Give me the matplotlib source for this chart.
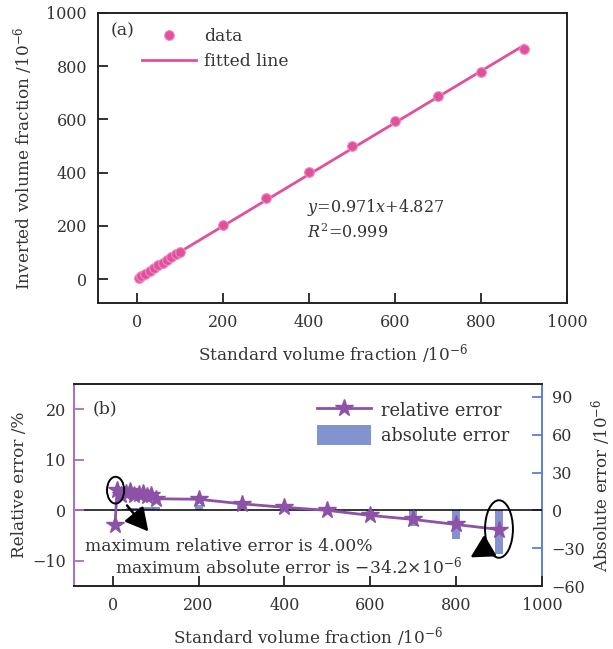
import numpy as np
import matplotlib
matplotlib.use('Agg')
import matplotlib.pyplot as plt
from matplotlib.patches import Ellipse

plt.rcParams['font.family'] = ['DejaVu Serif']
plt.rcParams['mathtext.fontset'] = 'dejavuserif'
plt.rcParams['text.color'] = '#333333'
plt.rcParams['axes.labelcolor'] = '#333333'

# Data
standard = [5, 10, 20, 30, 40, 50, 60, 70, 80, 90, 100,
            200, 300, 400, 500, 600, 700, 800, 900]
inverted = [4.85, 10.4, 20.6, 31.05, 41.5, 51.5, 61.9, 72.4, 82.2, 92.7, 102.3,
            204.4, 303.9, 402.4, 500.0, 594.0, 687.4, 777.6, 865.8]
relative_error = [-3.0, 4.0, 3.0, 3.5, 3.8, 3.0, 3.2, 3.4, 2.8, 3.0, 2.3,
                  2.2, 1.3, 0.6, 0.0, -1.0, -1.8, -2.8, -3.8]
absolute_error = [-0.15, 0.4, 0.6, 1.05, 1.5, 1.5, 1.9, 2.4, 2.2, 2.7, 2.3,
                  4.4, 3.9, 2.4, 0.0, -6.0, -12.6, -22.4, -34.2]
fit_slope, fit_intercept = 0.971, 4.827

pink = '#e0509c'
purple = '#8d52a8'
purple_spine = '#a66fc8'
blue = '#6478c4'
blue_spine = '#5b7fd6'
dark = '#222222'

fig = plt.figure(figsize=(6.13, 6.49), dpi=100)

# ---- panel (a) ----
ax1 = fig.add_axes([0.160, 0.533, 0.765, 0.447])
fit_x = np.array([0, 900])
ax1.plot(fit_x, fit_slope * fit_x + fit_intercept, color=pink, lw=2.0,
         label='fitted line', zorder=2)
ax1.plot(standard, inverted, 'o', color=pink, ms=7, mec='#f08cc0', mew=0.8,
         label='data', zorder=3)
ax1.set_xlim(-90, 1000)
ax1.set_ylim(-90, 1000)
ax1.set_xticks([0, 200, 400, 600, 800, 1000])
ax1.set_yticks([0, 200, 400, 600, 800, 1000])
ax1.set_xlabel(r'Standard volume fraction /10$^{-6}$', fontsize=12.2, labelpad=8)
ax1.set_ylabel(r'Inverted volume fraction /10$^{-6}$', fontsize=12.2, labelpad=8)
ax1.tick_params(direction='in', length=7, width=1.3, labelsize=11.5,
                colors=dark, labelcolor='#333333', pad=8)
for s in ax1.spines.values():
    s.set_linewidth(1.4)
    s.set_color(dark)
ax1.text(0.026, 0.94, '(a)', transform=ax1.transAxes, fontsize=12.5, va='center')
h, l = ax1.get_legend_handles_labels()
ax1.legend([h[1], h[0]], [l[1], l[0]], loc='upper left', bbox_to_anchor=(0.06, 1.0),
           frameon=False, fontsize=12.3, handlelength=3.2, numpoints=1,
           handletextpad=0.45, labelspacing=0.45)
ax1.text(396, 269, r'$y$=0.971$x$+4.827', fontsize=11.5, va='center')
ax1.text(396, 174, r'$R^2$=0.999', fontsize=11.5, va='center')

# ---- panel (b) ----
ax2 = fig.add_axes([0.121, 0.097, 0.763, 0.311])
ax3 = ax2.twinx()
ax2.set_zorder(ax3.get_zorder() + 1)
ax2.patch.set_visible(False)

bars = ax3.bar(standard, absolute_error, width=19, color=blue, alpha=0.8,
               label='absolute error')
ax3.set_ylim(-60, 100)
ax3.set_yticks([-60, -30, 0, 30, 60, 90])
ax3.set_ylabel(r'Absolute error /10$^{-6}$', fontsize=12, labelpad=3)
ax3.tick_params(axis='y', direction='in', length=7, width=1.3, labelsize=11.5,
                colors=blue_spine, labelcolor='#333333', pad=7)
for k in ['top', 'bottom', 'left']:
    ax3.spines[k].set_visible(False)
ax3.spines['right'].set_color(blue_spine)
ax3.spines['right'].set_linewidth(1.4)

ax2.axhline(0, color='black', lw=1.1, zorder=1)
line, = ax2.plot(standard, relative_error, '-*', color=purple, lw=2.0, ms=13,
                 label='relative error', zorder=3)
ax2.set_xlim(-90, 1000)
ax2.set_ylim(-15, 25)
ax2.set_xticks([0, 200, 400, 600, 800, 1000])
ax2.set_yticks([-10, 0, 10, 20])
ax2.set_xlabel(r'Standard volume fraction /10$^{-6}$', fontsize=12.2, labelpad=8)
ax2.set_ylabel('Relative error /%', fontsize=12.2, labelpad=3)
ax2.tick_params(axis='x', direction='in', length=7, width=1.3, labelsize=11.5,
                colors=dark, labelcolor='#333333', pad=8)
ax2.tick_params(axis='y', direction='in', length=7, width=1.3, labelsize=11.5,
                colors=purple_spine, labelcolor='#333333', pad=6)
ax2.spines['right'].set_visible(False)
ax2.spines['left'].set_color(purple_spine)
for k in ['top', 'bottom']:
    ax2.spines[k].set_color(dark)
for s in ax2.spines.values():
    s.set_linewidth(1.4)

ax2.text(0.04, 0.876, '(b)', transform=ax2.transAxes, fontsize=12.5, va='center')

# ellipses and arrows
ax2.add_patch(Ellipse((6.5, 4.0), 40, 5.3, fill=False, ec='black', lw=1.4, zorder=4))
ax2.add_patch(Ellipse((900, -3.7), 65, 11.4, fill=False, ec='black', lw=1.4, zorder=4))
arrow_style = dict(arrowstyle='-|>,head_length=1.4,head_width=0.75', color='black', lw=1.8)
ax2.annotate('', xy=(87, -4.6), xytext=(29, 1.4), arrowprops=arrow_style, zorder=5)
ax2.annotate('', xy=(828, -9.6), xytext=(882, -6.9), arrowprops=arrow_style, zorder=5)
ax2.text(-65, -7.1, 'maximum relative error is 4.00%', fontsize=12.3, va='center')
ax2.text(5, -11.2, r'maximum absolute error is $-$34.2$\times$10$^{-6}$',
         fontsize=12.3, va='center')

ax2.legend([line, bars], ['relative error', 'absolute error'], loc='upper right',
           bbox_to_anchor=(0.965, 1.0), frameon=False, fontsize=12.8,
           handlelength=3.0, handleheight=1.3, handletextpad=0.6, labelspacing=0.3)

fig.savefig('out.png', dpi=100)
